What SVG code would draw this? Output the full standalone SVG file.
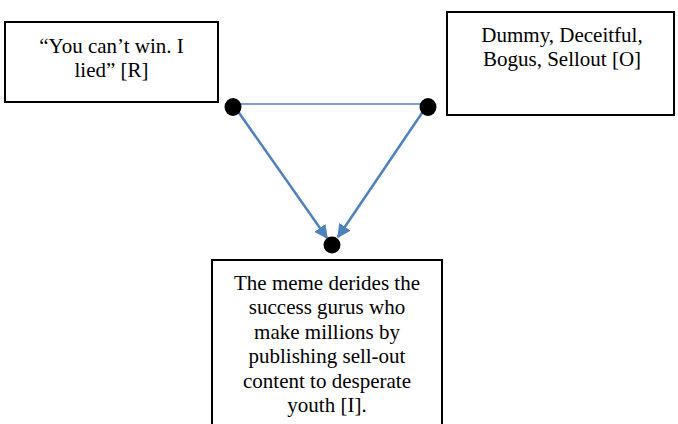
<svg xmlns="http://www.w3.org/2000/svg" width="678" height="424" viewBox="0 0 678 424">
<defs>
<style>
.box{fill:#fff;stroke:#000;stroke-width:2}
.t{font-family:"Liberation Serif","Times New Roman",serif;font-size:21px;fill:#000;text-anchor:middle}
.ln{stroke:#4F81BD;fill:none}
.dot{fill:#000}
</style>
<marker id="ah" viewBox="0 0 10 10" refX="9" refY="5" markerWidth="5.5" markerHeight="5.5" orient="auto" markerUnits="strokeWidth">
<path d="M0,0 L10,5 L0,10 z" fill="#4F81BD"/>
</marker>
</defs>
<rect width="678" height="424" fill="#fff"/>
<g id="node-r">
<rect class="box" x="5" y="22" width="213" height="80"/>
<text class="t" x="111.5" y="53">“You can’t win. I</text>
<text class="t" x="111.5" y="77">lied” [R]</text>
</g>
<g id="node-o">
<rect class="box" x="447" y="12" width="227" height="103"/>
<text class="t" x="562" y="42">Dummy, Deceitful,</text>
<text class="t" x="562" y="66">Bogus, Sellout [O]</text>
</g>
<g id="node-i">
<rect class="box" x="212" y="260" width="230" height="180"/>
<text class="t" x="327" y="289.5">The meme derides the</text>
<text class="t" x="327" y="314">success gurus who</text>
<text class="t" x="327" y="338.5">make millions by</text>
<text class="t" x="327" y="363">publishing sell-out</text>
<text class="t" x="327" y="387.5">content to desperate</text>
<text class="t" x="327" y="412">youth [I].</text>
</g>
<g id="connectors">
<line class="ln" x1="233" y1="104" x2="428" y2="104" stroke-width="1.5"/>
<line class="ln" x1="237" y1="110" x2="327" y2="238" stroke-width="2.5" marker-end="url(#ah)"/>
<line class="ln" x1="424" y1="110" x2="338" y2="237" stroke-width="2.5" marker-end="url(#ah)"/>
</g>
<g id="dots">
<ellipse class="dot" cx="233" cy="107" rx="8.5" ry="9"/>
<ellipse class="dot" cx="428" cy="107" rx="8.5" ry="9"/>
<ellipse class="dot" cx="332" cy="245" rx="8.5" ry="8.5"/>
</g>
</svg>
